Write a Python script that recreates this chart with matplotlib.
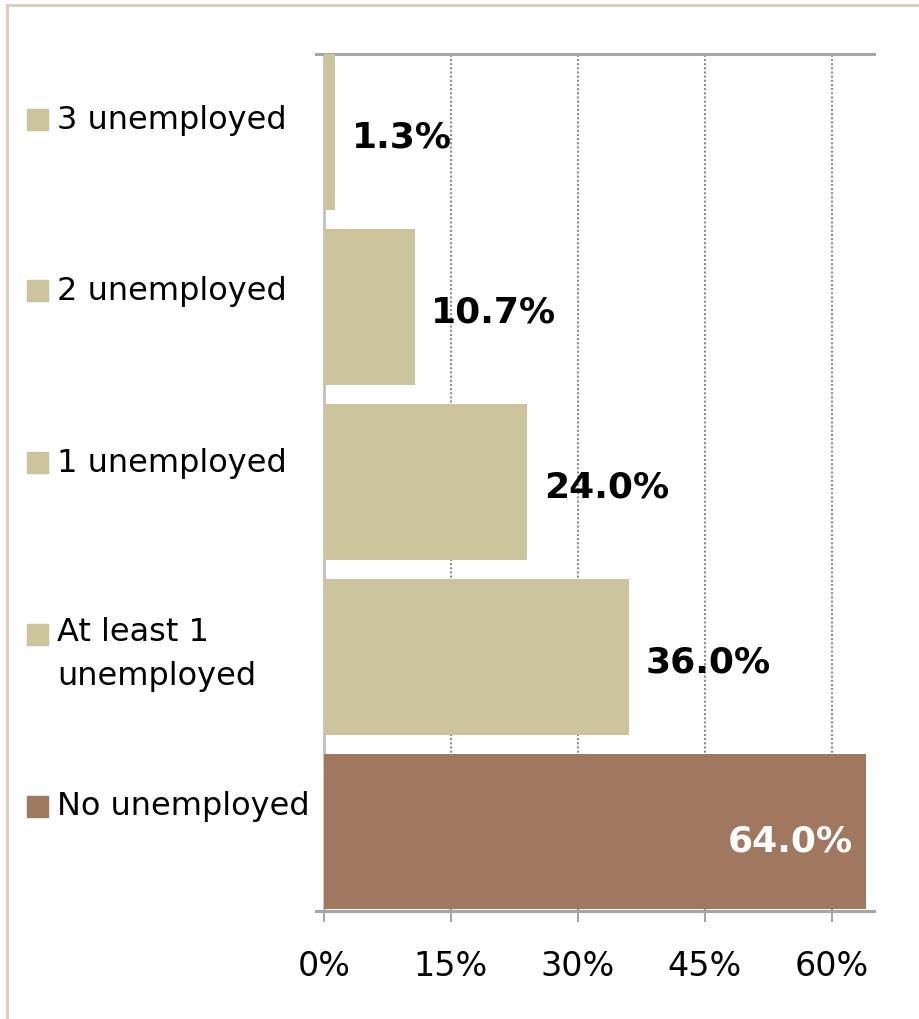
import matplotlib
matplotlib.use("Agg")
import matplotlib.pyplot as plt
from matplotlib.lines import Line2D
from matplotlib.ticker import FuncFormatter

# households by number of unemployed members (share, %)
categories = ["3 unemployed", "2 unemployed", "1 unemployed",
              "At least 1\nunemployed", "No unemployed"]
values = [1.3, 10.7, 24.0, 36.0, 64.0]
x_ticks = [0, 15, 30, 45, 60]

light = "#CCC49C"
dark = "#A0785F"
bar_colors = [light, light, light, light, dark]

plt.rcParams["font.family"] = ["DejaVu Sans"]

fig = plt.figure(figsize=(9.19, 10.2), dpi=100)
ax = fig.add_axes([324 / 919, 1 - 912 / 1020, 550 / 919, (912 - 55) / 1020])

pos = list(range(len(categories)))
ax.barh(pos, values, height=0.89, color=bar_colors, zorder=3)
ax.set_ylim(4.454, -0.446)
ax.set_xlim(0, 65)

ax.set_xticks(x_ticks)
ax.xaxis.set_major_formatter(FuncFormatter(lambda v, p: f"{v:.0f}%"))
ax.tick_params(axis="x", direction="out", length=8, width=1.5, color="#A6A6A6",
               labelsize=24, pad=19)
ax.set_yticks([])
ax.grid(axis="x", linestyle=(0, (1, 1)), color="#8C8C8C", linewidth=1.5, zorder=0)

for side in ["top", "bottom"]:
    ax.spines[side].set_color("#A6A6A6")
    ax.spines[side].set_linewidth(2.2)
    ax.spines[side].set_bounds(-0.9, 65)
ax.spines["left"].set_color("#C0C0C0")
ax.spines["left"].set_linewidth(2)
ax.spines["right"].set_visible(False)

# value labels
for i, v in enumerate(values):
    if i == len(values) - 1:
        ax.annotate(f"{v:.1f}%", xy=(v, i), xytext=(-9, -4), textcoords="offset points",
                    ha="right", va="center_baseline", fontsize=26, fontweight="bold",
                    color="white", zorder=4)
    else:
        ax.annotate(f"{v:.1f}%", xy=(v, i), xytext=(12, -1), textcoords="offset points",
                    ha="left", va="center_baseline", fontsize=26, fontweight="bold",
                    color="black", zorder=4)

# legend-like category labels on the left
for i, (cat, c) in enumerate(zip(categories, bar_colors)):
    y_px = 120 + 171.75 * i
    fy = 1 - y_px / 1020
    fig.patches.append(plt.Rectangle((27 / 919, fy - 10.5 / 1020), 21 / 919, 21 / 1020,
                                     transform=fig.transFigure, color=c))
    if "\n" in cat:
        fig.text(57 / 919, fy + 18 / 1020, cat, ha="left", va="top", fontsize=23,
                 linespacing=1.55)
    else:
        fig.text(57 / 919, fy, cat, ha="left", va="center", fontsize=23)

# outer frame (left and top edges)
border = "#D9D0C1"
fig.lines.append(Line2D([7 / 919, 7 / 919], [0, 1 - 6 / 1020], transform=fig.transFigure,
                        color=border, linewidth=2.2))
fig.lines.append(Line2D([7 / 919, 1], [1 - 6 / 1020, 1 - 6 / 1020], transform=fig.transFigure,
                        color=border, linewidth=2.2))

fig.savefig("out.png", dpi=100)
